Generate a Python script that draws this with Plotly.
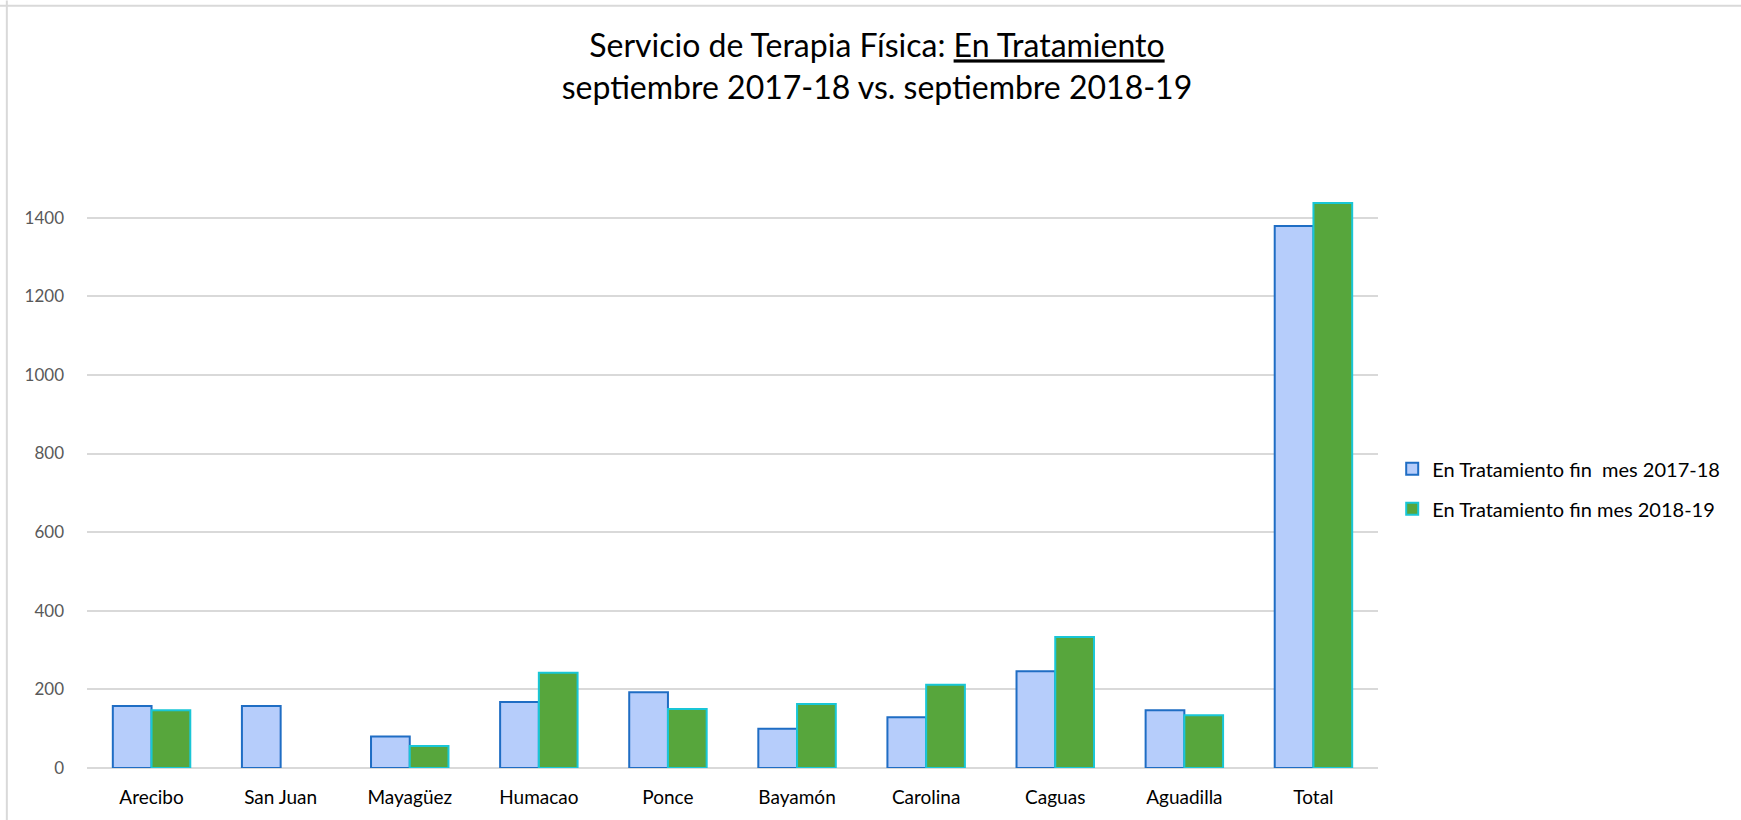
import plotly.graph_objects as go

categories = ["Arecibo", "San Juan", "Mayagüez", "Humacao", "Ponce", "Bayamón",
              "Carolina", "Caguas", "Aguadilla", "Total"]
values_2017_18 = [158, 158, 80, 168, 193, 100, 129, 246, 147, 1379]
values_2018_19 = [147, None, 56, 242, 150, 163, 212, 333, 134, 1437]
series_names = ["En Tratamiento fin\u00a0 mes 2017-18", "En Tratamiento fin mes 2018-19"]
y_ticks = [0, 200, 400, 600, 800, 1000, 1200, 1400]

FONT = "Lato"

fig = go.Figure()
fig.add_trace(go.Bar(
    x=categories, y=values_2017_18, name=series_names[0], legendgroup="a",
    marker=dict(color="#b6cdfb", line=dict(color="#1f6dc4", width=2)),
))
fig.add_trace(go.Bar(
    x=categories, y=values_2018_19, name=series_names[1], legendgroup="b",
    marker=dict(color="#57a63c", line=dict(color="#19c6d6", width=2)),
))

fig.update_layout(
    width=1741, height=820,
    paper_bgcolor="white", plot_bgcolor="white",
    margin=dict(l=87, r=363, t=139, b=50, pad=0),
    barmode="group", bargap=0.40, bargroupgap=0,
    font=dict(family=FONT, color="#000000"),
    title=dict(
        text="Servicio de Terapia Física: <u>En Tratamiento</u><br>septiembre 2017-18 vs. septiembre 2018-19",
        x=0.5037, xanchor="center", xref="container", y=0.93, yanchor="top", yref="container",
        font=dict(family=FONT, size=32, color="#000000"),
    ),
    legend=dict(
        x=1.011, xanchor="left", y=0.444, yanchor="middle",
        font=dict(family=FONT, size=20, color="#000000"),
        tracegroupgap=11, traceorder="grouped",
        itemsizing="constant",
    ),
    xaxis=dict(
        type="category", showgrid=False, showline=False, zeroline=False,
        ticks="", tickfont=dict(family=FONT, size=19, color="#000000"),
        ticklabelstandoff=16,
    ),
    yaxis=dict(
        range=[0, 1600], tickvals=y_ticks, showgrid=True, gridcolor="#d9d9d9", gridwidth=1.5,
        zeroline=True, zerolinecolor="#d9d9d9", zerolinewidth=1.5, showline=False,
        ticks="", tickfont=dict(family=FONT, size=17, color="#595959"),
        ticklabelstandoff=22,
    ),
    shapes=[
        dict(type="line", xref="paper", yref="paper", x0=-0.0755, x1=1.3, y0=1.212, y1=1.212,
             line=dict(color="#d9d9d9", width=2)),
        dict(type="line", xref="paper", yref="paper", x0=-0.0621, x1=-0.0621, y0=-0.2, y1=1.22,
             line=dict(color="#d9d9d9", width=2)),
    ],
)

fig.write_html("out.html", config={"displayModeBar": False})

with open("out.html", "r", encoding="utf-8") as f:
    html = f.read()
html = html.replace("<body>", '<body style="margin:0;overflow:hidden">', 1)
with open("out.html", "w", encoding="utf-8") as f:
    f.write(html)
